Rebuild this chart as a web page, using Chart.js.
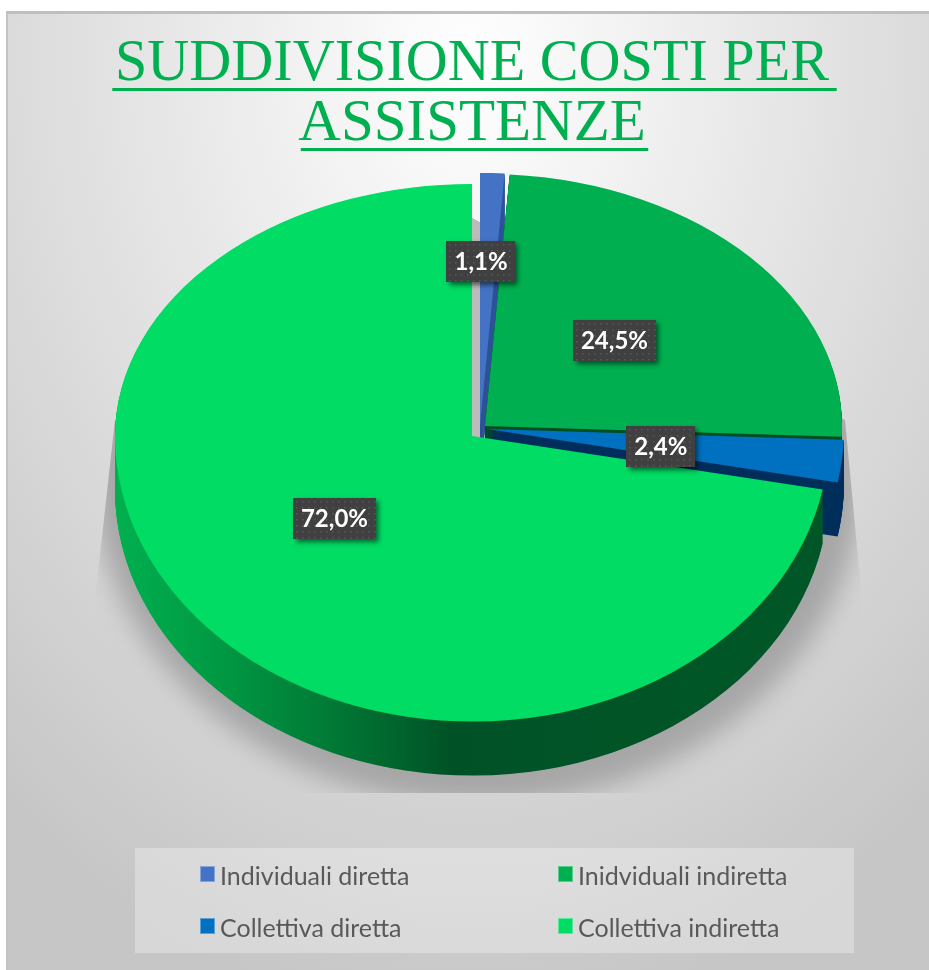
<!DOCTYPE html>
<html>
<head>
    <title>Suddivisione costi per assistenze</title>
    <script src="https://cdn.jsdelivr.net/npm/chart.js"></script>
    <style>
        html, body { margin: 0; padding: 0; background: #fff; overflow: hidden; }
        #page { position: relative; width: 929px; height: 970px; overflow: hidden; }
        #card {
            position: absolute; left: 6px; top: 11px; right: 0; bottom: 0;
            border-top: 3px solid #bfbfbf; border-left: 2px solid #c4c4c4;
            background: radial-gradient(ellipse 720px 960px at 50% 5%, #ffffff, #c6c6c6);
        }
        canvas { position: absolute; left: 0; top: 0; }
        #legend {
            position: absolute; left: 135px; top: 848px; width: 719px; height: 105px;
            background: rgba(255, 255, 255, 0.3);
            font-family: Lato, sans-serif; font-size: 25px; color: #595959;
        }
        #legend div { position: absolute; white-space: nowrap; line-height: 28px; padding-left: 20px; }
        #legend i { position: absolute; left: 0; top: 5px; width: 13px; height: 14px; border: 1px solid rgba(255,255,255,.35); }
    </style>
</head>
<body>
<div id="page">
    <div id="card"></div>
    <canvas id="chart" width="949" height="970"></canvas>
    <div id="legend"></div>
</div>
<script>
    const titleLines = ['SUDDIVISIONE COSTI PER', 'ASSISTENZE'];
    const categories = ['Individuali diretta', 'Inidviduali indiretta', 'Collettiva diretta', 'Collettiva indiretta'];
    const values = [1.1, 24.5, 2.4, 72.0];
    const valueLabels = ['1,1%', '24,5%', '2,4%', '72,0%'];
    const faceColors = ['#4472c4', '#00b050', '#0070c0', '#00dc64'];
    const wallColors = ['#2f5597', '#004e23', '#002f5c', null];

    // look of the tilted pie, all in page pixels
    const pieX = 472, pieY = 436, pieRadius = 357, depth = 54;
    const tiltUp = 0.706, tiltDown = 0.8;
    const explode = [[8, -11], [13, -10], [15, -7], [0, 0]];
    const labelRadius = [0.65, 0.48, 0.49, 0.5];
    const labelNudge = [[-7, 0], [2, -5], [0, 1], [0, -9]];
    const titleGreen = '#00b050';

    function drawArcHalves(ctx, arc, i, dy, color) {
        const [sx, sy] = explode[i];
        const midY = pieY + sy + dy;
        const saved = arc.options;
        arc.options = Object.create(saved);
        arc.options.backgroundColor = color;
        [[0, midY, tiltUp], [midY, 970 - midY, tiltDown]].forEach(([top, h, tilt]) => {
            ctx.save();
            ctx.beginPath();
            ctx.rect(0, top, 949, h);
            ctx.clip();
            ctx.translate(pieX + sx, midY);
            ctx.scale(1, tilt);
            ctx.translate(-arc.x, -arc.y);
            arc.draw(ctx);
            ctx.restore();
        });
        arc.options = saved;
    }

    const pie3d = {
        id: 'pie3d',
        beforeDatasetsDraw(chart) {
            // soft grey shadow under the pie
            const ctx = chart.ctx;
            ctx.save();
            ctx.beginPath();
            ctx.moveTo(115, 420);
            ctx.lineTo(470, 217);
            ctx.lineTo(845, 420);
            ctx.lineTo(862, 600);
            ctx.lineTo(860, 793);
            ctx.lineTo(95, 793);
            ctx.lineTo(95, 600);
            ctx.closePath();
            ctx.clip();
            ctx.filter = 'blur(13px)';
            ctx.fillStyle = '#a6a6a6';
            ctx.beginPath();
            ctx.ellipse(478, 470, 386, 335, 0, 0, Math.PI * 2);
            ctx.fill();
            ctx.filter = 'none';
            ctx.fillStyle = '#bcbcbc';
            ctx.fillRect(470, 217, 20, 225);
            ctx.restore();
        },
        beforeDatasetDraw(chart, args) {
            const ctx = chart.ctx;
            const arcs = args.meta.data;
            const wallFill = ctx.createLinearGradient(115, 0, 830, 0);
            wallFill.addColorStop(0, '#00b04f');
            wallFill.addColorStop(0.14, '#009a44');
            wallFill.addColorStop(0.3, '#007a35');
            wallFill.addColorStop(0.47, '#005226');
            wallFill.addColorStop(1, '#005726');
            arcs.forEach((arc, i) => {
                for (let dy = depth; dy > 0; dy--) {
                    drawArcHalves(ctx, arc, i, dy, wallColors[i] || wallFill);
                }
                drawArcHalves(ctx, arc, i, 0, faceColors[i]);
            });
            return false;
        },
        afterDraw(chart) {
            const ctx = chart.ctx;
            ctx.save();
            // title underlines
            ctx.font = "59px 'Liberation Serif'";
            ctx.fillStyle = titleGreen;
            const centre = chart.width / 2;
            [88, 148].forEach((y, i) => {
                const w = ctx.measureText(titleLines[i]).width;
                ctx.fillRect(centre - w / 2, y, w, 3);
            });
            // value labels
            ctx.font = "bold 24px Lato";
            ctx.textAlign = 'center';
            ctx.textBaseline = 'middle';
            chart.getDatasetMeta(0).data.forEach((arc, i) => {
                const mid = (arc.startAngle + arc.endAngle) / 2;
                const dx = Math.cos(mid) * pieRadius * labelRadius[i];
                const dy = Math.sin(mid) * pieRadius * labelRadius[i];
                const x = pieX + explode[i][0] + dx + labelNudge[i][0];
                const y = pieY + explode[i][1] + dy * (dy < 0 ? tiltUp : tiltDown) + labelNudge[i][1];
                const w = ctx.measureText(valueLabels[i]).width + 16;
                const left = Math.round(x - w / 2), top = Math.round(y - 20);
                ctx.save();
                ctx.shadowColor = 'rgba(0,0,0,0.55)';
                ctx.shadowBlur = 5;
                ctx.shadowOffsetX = 3;
                ctx.shadowOffsetY = 3;
                ctx.fillStyle = '#404040';
                ctx.fillRect(left, top, w, 41);
                ctx.restore();
                ctx.fillStyle = 'rgba(255,255,255,0.13)';
                for (let py = top + 3; py < top + 40; py += 6) {
                    for (let px = left + 3; px < left + w - 1; px += 6) {
                        ctx.fillRect(px, py, 1.5, 1.5);
                    }
                }
                ctx.fillStyle = '#ffffff';
                ctx.fillText(valueLabels[i], x, y + 1);
            });
            ctx.restore();
        }
    };

    new Chart(document.getElementById('chart'), {
        type: 'pie',
        data: {
            labels: categories,
            datasets: [{
                data: values,
                backgroundColor: faceColors,
                borderWidth: 0,
                radius: pieRadius
            }]
        },
        options: {
            responsive: false,
            animation: false,
            layout: { padding: { left: 115, right: 120 } },
            plugins: {
                legend: { display: false },
                tooltip: { enabled: false },
                title: {
                    display: true,
                    text: titleLines,
                    color: titleGreen,
                    font: { family: "'Liberation Serif'", size: 59, weight: 'normal', lineHeight: 1.02 },
                    padding: { top: 34, bottom: 10 }
                }
            }
        },
        plugins: [pie3d]
    });

    // legend, two columns
    const legendBox = document.getElementById('legend');
    const legendCols = [65, 423];
    const legendRows = [13, 65];
    categories.forEach((name, i) => {
        const item = document.createElement('div');
        item.style.left = legendCols[i % 2] + 'px';
        item.style.top = legendRows[Math.floor(i / 2)] + 'px';
        item.innerHTML = '<i style="background:' + faceColors[i] + '"></i>' + name;
        legendBox.appendChild(item);
    });
</script>
</body>
</html>
